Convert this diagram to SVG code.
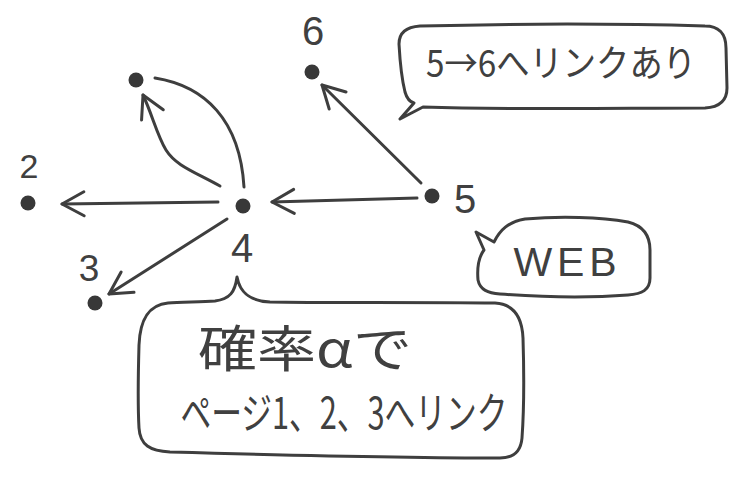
<svg xmlns="http://www.w3.org/2000/svg" width="738" height="485" viewBox="0 0 738 485">
  <style>
    .ink { fill: none; stroke: #3e3e3e; stroke-width: 3; stroke-linecap: round; stroke-linejoin: round; }
    .dot { fill: #383838; }
    .num { font-family: "Liberation Sans", "DejaVu Sans", sans-serif; fill: #404040; text-anchor: middle; }
    .jp { font-family: "Noto Sans CJK JP", "Noto Sans", sans-serif; fill: #404040; text-anchor: middle; }
    .lat { font-family: "Liberation Sans", "DejaVu Sans", sans-serif; fill: #404040; text-anchor: middle; }
  </style>
  <defs>
    <!-- open V arrowhead, tip at the end of the line -->
    <marker id="open-arrow" markerUnits="userSpaceOnUse" markerWidth="30" markerHeight="30" viewBox="-25 -15 30 30" refX="0" refY="0" orient="auto" overflow="visible">
      <path d="M-22,-12 L0,0 L-22,12" fill="none" stroke="#3e3e3e" stroke-width="3" stroke-linecap="round" stroke-linejoin="round"/>
    </marker>
  </defs>

  <rect width="738" height="485" fill="#ffffff"/>

  <!-- links between pages -->
  <g id="connectors">
    <path class="ink" d="M417,198 L272,202" marker-end="url(#open-arrow)"/>
    <path class="ink" d="M218,202 L62,204" marker-end="url(#open-arrow)"/>
    <path class="ink" d="M227,219 L109,294" marker-end="url(#open-arrow)"/>
    <path class="ink" d="M220,186 C195,172 176,166 166,150 C157,135 152,114 143,95" marker-end="url(#open-arrow)"/>
    <path class="ink" d="M155,78 C205,86 240,120 244,187"/>
    <path class="ink" d="M421,183 L322,85" marker-end="url(#open-arrow)"/>
  </g>

  <!-- pages -->
  <g id="node-1">
    <circle class="dot" cx="136" cy="80" r="7.5"/>
  </g>
  <g id="node-2">
    <circle class="dot" cx="28" cy="203" r="7.5"/>
    <text class="num" x="29" y="178" font-size="34">2</text>
  </g>
  <g id="node-3">
    <circle class="dot" cx="95" cy="303" r="7.5"/>
    <text class="num" x="89" y="281" font-size="37">3</text>
  </g>
  <g id="node-4">
    <circle class="dot" cx="243" cy="206" r="7.5"/>
    <text class="num" x="242" y="262" font-size="40">4</text>
  </g>
  <g id="node-5">
    <circle class="dot" cx="432" cy="196" r="7.5"/>
    <text class="num" x="465" y="213" font-size="40">5</text>
  </g>
  <g id="node-6">
    <circle class="dot" cx="312" cy="72" r="7.5"/>
    <text class="num" x="313" y="45" font-size="40">6</text>
  </g>

  <!-- speech bubbles -->
  <g id="callout-link-5-6">
    <path class="ink" d="M400,119 L423,107 C520,110 620,108 705,108 C722,107 727,98 727,88 L726,48 C726,33 718,26 705,26 C600,23 500,24 420,26 C405,27 399,34 399,44 C400,62 402,80 405,92 C407,99 410,102 414,103 Z"/>
    <text class="jp" x="561" y="77" font-size="37" textLength="270" lengthAdjust="spacingAndGlyphs">5→6へリンクあり</text>
  </g>

  <g id="callout-web">
    <path class="ink" d="M476,232 L494,242 C500,230 508,222 525,219 C560,216 600,217 628,222 C644,226 650,236 650,250 L650,278 C650,290 642,294 628,295 C590,298 540,297 500,294 C488,293 480,290 478,280 C477,268 478,258 484,250 Z"/>
    <text class="lat" x="565" y="276" font-size="41" textLength="103" lengthAdjust="spacing">WEB</text>
  </g>

  <g id="callout-probability">
    <path class="ink" d="M237,277 C235,292 230,299 215,301 C200,302 180,302 168,303 C148,305 140,320 139,345 C138,380 138,410 139,428 C140,445 150,451 170,452 C280,455 400,458 500,458 C515,458 521,450 522,438 C524,410 524,370 523,338 C522,315 512,304 495,303 C420,302 320,303 270,302 C250,301 240,293 237,277 Z"/>
    <text class="jp" x="305" y="367" font-size="50" textLength="214" lengthAdjust="spacingAndGlyphs">確率αで</text>
    <text class="jp" x="344" y="429" font-size="43" textLength="327" lengthAdjust="spacingAndGlyphs">ページ1、2、3へリンク</text>
  </g>
</svg>
